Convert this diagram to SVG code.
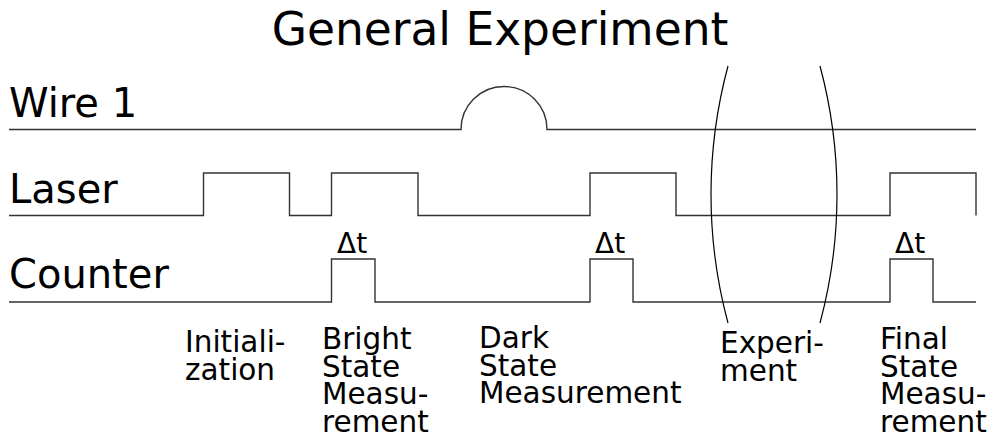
<svg xmlns="http://www.w3.org/2000/svg" width="993" height="438" viewBox="0 0 993 438">
  <style>
    text { font-family: "DejaVu Sans", "Liberation Sans", sans-serif; fill: #000; }
    .title { font-size: 45.5px; }
    .row { font-size: 40px; }
    .dt { font-size: 28px; }
    .phase { font-size: 29.5px; }
    .sig { fill: none; stroke: #333; stroke-width: 1.4; }
    .bracket { fill: none; stroke: #000; stroke-width: 1.2; }
  </style>
  <rect width="993" height="438" fill="#fff"/>

  <text class="title" x="500" y="45" text-anchor="middle">General Experiment</text>

  <!-- channel names -->
  <g id="row-labels">
    <text class="row" x="9" y="117">Wire 1</text>
    <text class="row" x="9" y="203">Laser</text>
    <text class="row" x="9" y="288">Counter</text>
  </g>

  <!-- signal traces -->
  <g id="signals">
    <path id="wire1" class="sig" d="M9,129.5 H461 A43,43 0 0,1 547,129.5 H976"/>
    <path id="laser" class="sig" d="M9,215.5 H203.5 V173 H289.5 V215.5 H331.5 V173 H418 V215.5 H590 V173 H676 V215.5 H890 V173 H976 V215.5"/>
    <path id="counter" class="sig" d="M9,302 H331.5 V259 H375 V302 H590 V259 H633 V302 H890 V259 H933 V302 H976"/>
  </g>

  <!-- counting windows -->
  <g id="windows">
    <text class="dt" x="337" y="253">Δt</text>
    <text class="dt" x="595" y="253">Δt</text>
    <text class="dt" x="895" y="253">Δt</text>
  </g>

  <!-- experiment bracket -->
  <g id="experiment-bracket">
    <path class="bracket" d="M728,66 A494,494 0 0,0 728,323"/>
    <path class="bracket" d="M820,66 A494,494 0 0,1 820,323"/>
  </g>

  <!-- sequence phases -->
  <g id="phase-init">
    <text class="phase" x="185" y="352"><tspan x="185">Initiali-</tspan><tspan x="185" dy="27.5">zation</tspan></text>
  </g>
  <g id="phase-bright">
    <text class="phase" x="322" y="349"><tspan x="322">Bright</tspan><tspan x="322" dy="27.5">State</tspan><tspan x="322" dy="27.5">Measu-</tspan><tspan x="322" dy="27.5">rement</tspan></text>
  </g>
  <g id="phase-dark">
    <text class="phase" x="479" y="348"><tspan x="479">Dark</tspan><tspan x="479" dy="27.5">State</tspan><tspan x="479" dy="27.5">Measurement</tspan></text>
  </g>
  <g id="phase-experiment">
    <text class="phase" x="720" y="353"><tspan x="720">Experi-</tspan><tspan x="720" dy="27.5">ment</tspan></text>
  </g>
  <g id="phase-final">
    <text class="phase" x="880" y="349"><tspan x="880">Final</tspan><tspan x="880" dy="27.5">State</tspan><tspan x="880" dy="27.5">Measu-</tspan><tspan x="880" dy="27.5">rement</tspan></text>
  </g>
</svg>
